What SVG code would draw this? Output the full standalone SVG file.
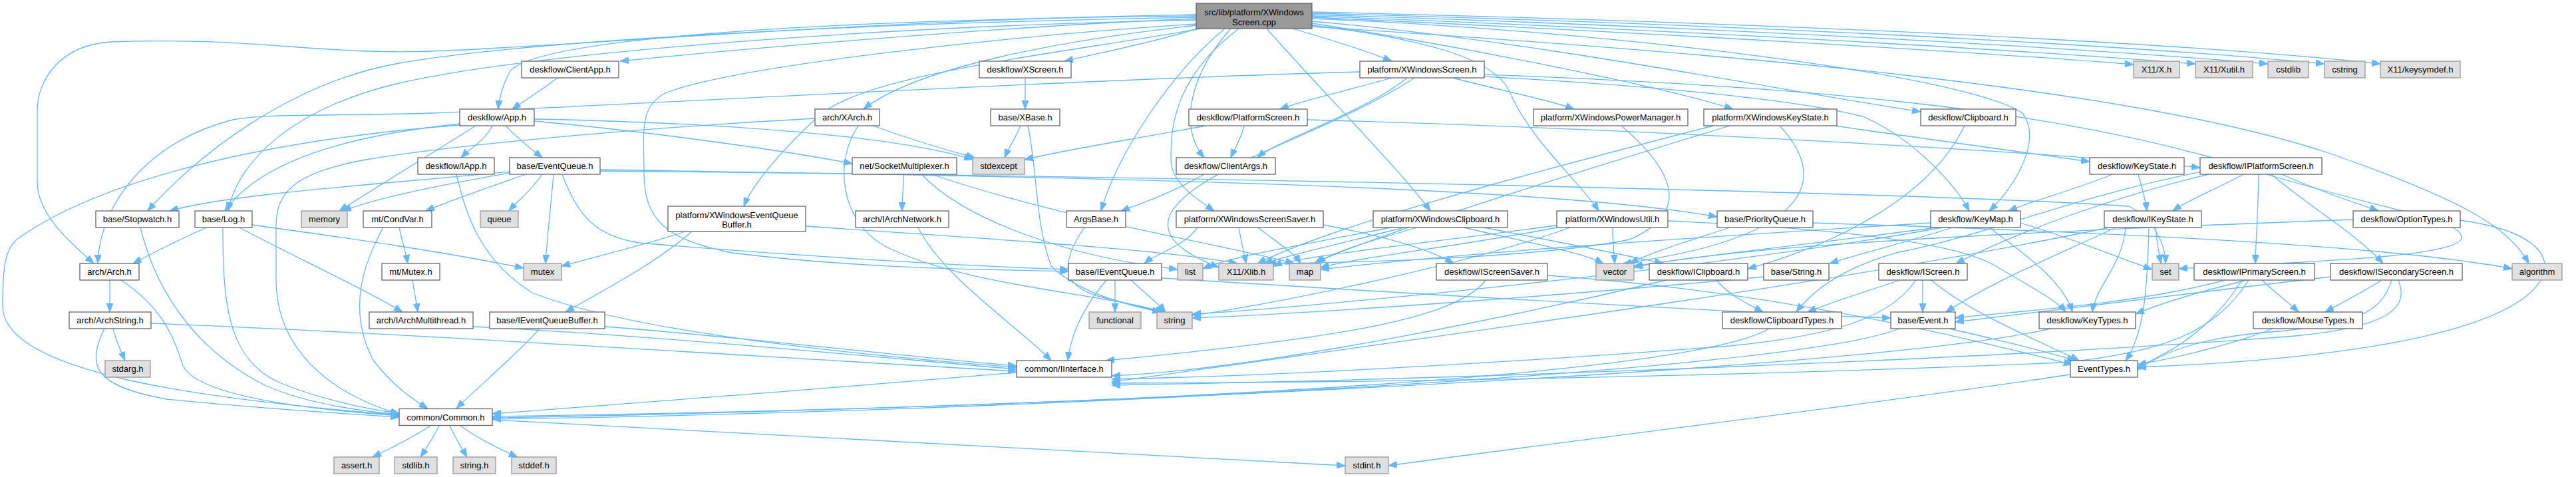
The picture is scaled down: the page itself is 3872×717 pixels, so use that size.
<svg xmlns="http://www.w3.org/2000/svg" width="3872" height="717" viewBox="0 0 3872 717">
<defs>
<marker id="a" markerWidth="13" markerHeight="10" refX="13" refY="5" orient="auto" markerUnits="userSpaceOnUse"><path d="M0,0L13,5L0,10z" fill="#63b8ff" stroke="#63b8ff" stroke-width="1"/></marker>
<style>
.n rect{fill:#ffffff;stroke:#666666;stroke-width:1.3}
.g rect{fill:#e0e0e0;stroke:#999999;stroke-width:1.3}
.m rect{fill:#999999;stroke:#666666;stroke-width:1.3}
text{font-family:"Liberation Sans",Arial,Helvetica,sans-serif;font-size:13px;text-anchor:middle;fill:#000000}
#edges path{fill:none;stroke:#63b8ff;stroke-width:1.3;marker-end:url(#a)}
</style>
</defs>
<rect width="3872" height="717" fill="#ffffff"/>
<g id="edges">
<path d="M1798,28 C1500,40 1100,75 932,92"/>
<path d="M1798,24 C1200,30 790,60 765,110 C755,130 750,150 749,164"/>
<path d="M1798,30 C1300,40 800,80 600,125 C430,165 355,250 343,317"/>
<path d="M1798,26 C1300,35 800,60 600,95 C430,125 290,240 222,317"/>
<path d="M1798,22 C1300,30 850,70 650,77 C480,83 380,55 166,63 C90,68 56,120 56,167 L56,273 C56,320 100,360 141,396"/>
<path d="M1805,43 C1600,80 1300,110 1230,175 C1170,230 1130,280 1118,310"/>
<path d="M1798,38 C1600,60 1380,100 1298,164"/>
<path d="M1800,43 C1740,62 1660,78 1600,92"/>
<path d="M1841,43 C1760,110 1680,230 1655,317"/>
<path d="M1850,43 C1790,110 1770,190 1810,237"/>
<path d="M1862,43 C1760,120 1760,200 1760,240 C1760,275 1800,300 1825,317"/>
<path d="M1943,43 C2000,60 2050,75 2092,92"/>
<path d="M1904,43 C1980,130 2100,250 2150,317"/>
<path d="M1972,38 C2150,60 2250,90 2270,140 C2300,210 2380,280 2403,317"/>
<path d="M1972,35 C2200,70 2500,130 2605,164"/>
<path d="M1972,32 C2300,60 2700,140 2887,168"/>
<path d="M1972,28 C2400,45 2950,110 3040,170 C3070,210 3030,280 2990,317"/>
<path d="M1972,26 C2500,50 3000,80 3207,97"/>
<path d="M1972,24 C2600,48 3100,80 3300,96"/>
<path d="M1972,22 C2700,45 3200,78 3409,96"/>
<path d="M1972,20 C2800,42 3300,77 3494,96"/>
<path d="M1972,18 C2900,40 3400,76 3578,96"/>
<path d="M1972,40 C2600,80 3200,130 3500,230 C3700,300 3770,340 3801,396"/>
<path d="M1798,36 C1500,55 1100,100 1000,140 C960,160 968,200 968,260 C968,330 1000,360 1100,380 C1300,405 1500,405 1606,408"/>
<path d="M838,117 C815,135 790,150 770,164"/>
<path d="M740,189 C730,210 705,225 693,237"/>
<path d="M760,189 C780,210 800,225 815,237"/>
<path d="M803,182 C1000,200 1200,230 1281,246"/>
<path d="M803,179 C1100,185 1350,205 1462,240"/>
<path d="M715,189 C650,230 560,285 510,317"/>
<path d="M691,186 C560,200 400,230 338,317"/>
<path d="M691,188 C400,210 150,270 25,360 C8,375 4,400 4,460 C4,560 300,600 600,624"/>
<path d="M2044,108 C1600,120 900,160 650,170 C500,175 400,170 350,180 C230,210 150,300 147,396"/>
<path d="M686,262 C700,320 720,390 800,440 C950,500 1300,535 1528,552"/>
<path d="M766,258 C600,275 350,290 255,317"/>
<path d="M766,260 C650,280 560,300 515,317"/>
<path d="M790,262 C740,280 680,300 640,317"/>
<path d="M815,262 C800,285 780,300 765,317"/>
<path d="M832,262 C828,310 822,360 820,396"/>
<path d="M845,262 C870,330 900,355 960,365 C1200,385 1450,400 1606,405"/>
<path d="M902,255 C1500,265 2300,275 2581,326"/>
<path d="M902,257 C1800,265 2900,290 3200,310 C3240,330 3255,370 3255,396"/>
<path d="M600,342 C605,365 610,380 613,396"/>
<path d="M576,342 C550,390 520,460 560,540 C590,580 620,600 643,614"/>
<path d="M620,421 C623,440 626,455 628,469"/>
<path d="M310,342 C270,360 230,380 200,396"/>
<path d="M360,342 C420,375 540,430 605,469"/>
<path d="M335,342 C335,450 340,540 420,575 C480,600 550,615 600,621"/>
<path d="M379,338 C500,355 650,375 787,403"/>
<path d="M211,342 C230,420 280,520 400,580 C470,610 550,618 600,623"/>
<path d="M165,421 C165,440 165,455 165,469"/>
<path d="M182,421 C240,460 260,500 275,550 C300,600 500,618 600,625"/>
<path d="M170,494 C175,515 183,530 188,542"/>
<path d="M157,494 C130,550 140,580 250,600 C400,615 520,622 600,627"/>
<path d="M227,486 C600,500 1200,540 1528,558"/>
<path d="M711,491 C1000,505 1350,540 1528,555"/>
<path d="M909,491 C1100,505 1350,535 1528,550"/>
<path d="M811,494 C780,530 720,580 686,614"/>
<path d="M647,640 C620,658 585,675 560,687"/>
<path d="M660,640 C650,660 640,675 632,687"/>
<path d="M676,640 C685,660 695,675 702,687"/>
<path d="M692,640 C720,660 750,675 778,687"/>
<path d="M740,631 C1200,655 1800,690 2022,700"/>
<path d="M3112,563 C2800,610 2300,670 2087,700"/>
<path d="M1312,189 C1370,210 1420,225 1465,237"/>
<path d="M1290,189 C1255,240 1260,330 1330,370 C1450,430 1650,440 1750,469"/>
<path d="M1225,178 C1000,190 700,215 550,240 C440,260 415,290 415,340 L415,420 C415,540 520,600 600,622"/>
<path d="M1541,117 C1541,135 1541,150 1541,164"/>
<path d="M1534,189 C1525,210 1515,225 1510,237"/>
<path d="M1545,189 C1560,260 1555,330 1580,400 C1620,440 1700,460 1745,469"/>
<path d="M1812,189 C1700,210 1600,225 1540,240"/>
<path d="M1870,189 C1865,210 1855,225 1850,237"/>
<path d="M1965,180 C2500,195 3100,230 3307,252"/>
<path d="M1810,262 C1770,285 1720,305 1685,317"/>
<path d="M1630,342 C1590,400 1600,430 1650,445 C1700,458 1730,465 1752,469"/>
<path d="M1358,262 C1358,285 1356,300 1356,317"/>
<path d="M1385,262 C1450,330 1600,385 1770,405"/>
<path d="M1400,262 C1600,330 1850,370 1945,396"/>
<path d="M1380,342 C1420,420 1530,490 1580,542"/>
<path d="M1676,421 C1676,440 1676,455 1676,469"/>
<path d="M1700,421 C1720,440 1740,455 1752,469"/>
<path d="M1663,421 C1630,460 1610,500 1605,542"/>
<path d="M1746,418 C2100,440 2600,470 2842,478"/>
<path d="M2930,494 C3000,510 3080,530 3120,542"/>
<path d="M2854,494 C2700,560 1500,620 740,630"/>
<path d="M2903,421 C2960,470 3060,510 3125,542"/>
<path d="M2890,421 C2890,440 2890,455 2890,469"/>
<path d="M2856,421 C2800,440 2750,455 2717,469"/>
<path d="M2880,421 C2840,480 2750,505 2600,520 C2200,550 1900,565 1671,570"/>
<path d="M2580,421 C2600,445 2630,458 2650,469"/>
<path d="M2505,421 C2300,470 1900,555 1671,565"/>
<path d="M2233,421 C2190,480 2000,510 1662,542"/>
<path d="M2326,414 C2700,440 3000,520 3115,548"/>
<path d="M3195,342 C3190,400 3150,430 3145,469"/>
<path d="M3240,342 C3242,365 3245,380 3248,396"/>
<path d="M3180,342 C3100,380 3000,420 2925,469"/>
<path d="M3170,342 C2800,420 2200,500 1671,574"/>
<path d="M3230,342 C3228,420 3225,500 3195,542"/>
<path d="M3082,494 C2800,560 1500,615 740,628"/>
<path d="M2659,494 C2550,560 1800,610 740,626"/>
<path d="M2651,416 C2400,440 2000,470 1792,478"/>
<path d="M3698,331 C3800,345 3840,380 3820,420 C3760,520 3400,545 3213,552"/>
<path d="M3537,330 C3000,350 2600,370 2456,402"/>
<path d="M3416,494 C3350,520 3260,540 3213,548"/>
<path d="M3400,421 C3420,440 3440,455 3455,469"/>
<path d="M3580,421 C3550,440 3520,455 3495,469"/>
<path d="M3377,421 C3300,440 3250,455 3210,472"/>
<path d="M3345,421 C3200,460 3000,470 2939,478"/>
<path d="M3370,421 C3320,500 3260,530 3213,552"/>
<path d="M3380,421 C3330,500 3250,530 3100,545 C2500,570 2000,575 1671,576"/>
<path d="M3503,416 C3300,440 3050,470 2939,484"/>
<path d="M3595,421 C3580,470 3540,490 3400,500 C3300,510 3250,530 3213,556"/>
<path d="M3605,421 C3620,460 3600,490 3450,505 C3000,540 2200,570 1671,579"/>
<path d="M3372,262 C3330,285 3290,300 3266,317"/>
<path d="M3395,262 C3394,320 3391,360 3390,396"/>
<path d="M3414,262 C3470,310 3540,350 3582,396"/>
<path d="M3430,262 C3480,285 3540,305 3575,317"/>
<path d="M3320,262 C3200,290 3050,340 2940,396"/>
<path d="M3310,258 C3100,300 3000,350 2850,380 C2780,400 2730,430 2700,469"/>
<path d="M3175,262 C3120,285 3060,300 3019,317"/>
<path d="M3214,262 C3220,285 3225,300 3227,317"/>
<path d="M2990,342 C3040,380 3100,420 3115,469"/>
<path d="M2935,342 C2880,360 2800,380 2750,396"/>
<path d="M3037,335 C3120,360 3190,390 3235,405"/>
<path d="M2902,335 C2500,360 2200,380 1985,405"/>
<path d="M2910,342 C2700,370 2550,385 2456,400"/>
<path d="M2920,342 C2600,400 2000,460 1792,472"/>
<path d="M2758,189 C2900,210 3050,230 3141,243"/>
<path d="M2575,189 C2300,260 2000,340 1890,396"/>
<path d="M2600,189 C2300,280 2050,360 1975,396"/>
<path d="M2675,189 C2760,280 2700,360 2440,396"/>
<path d="M2092,117 C2030,135 1960,150 1924,164"/>
<path d="M2115,117 C2050,170 1920,210 1890,237"/>
<path d="M2184,117 C2250,135 2330,150 2366,164"/>
<path d="M2231,112 C2700,130 3100,160 3400,260 C3600,320 3700,330 3700,357 C3700,390 3400,395 3275,404"/>
<path d="M2231,115 C2500,130 2700,150 2800,175 C2880,210 2940,280 2960,317"/>
<path d="M2126,117 C2000,200 1800,250 1760,320 C1740,360 1790,385 1832,402"/>
<path d="M2437,189 C2520,260 2540,320 2450,360 C2300,390 2000,395 1905,396"/>
<path d="M1040,348 C980,400 900,440 850,469"/>
<path d="M1030,348 C980,365 900,385 844,400"/>
<path d="M1211,340 C1500,360 1750,375 1860,396"/>
<path d="M2090,342 C1950,370 1850,385 1808,404"/>
<path d="M2110,342 C2000,370 1930,385 1900,396"/>
<path d="M2130,342 C2050,365 2000,380 1980,396"/>
<path d="M2200,342 C2300,365 2380,380 2410,396"/>
<path d="M2230,342 C2350,365 2450,385 2500,396"/>
<path d="M2424,342 C2424,365 2426,380 2427,396"/>
<path d="M2350,340 C2200,370 2050,385 1985,402"/>
<path d="M2345,338 C2150,365 1950,385 1914,400"/>
<path d="M2360,342 C2200,400 1900,460 1792,474"/>
<path d="M2507,332 C2800,345 2950,370 3000,400 C3050,430 3090,450 3105,469"/>
<path d="M1800,342 C1780,370 1740,380 1720,396"/>
<path d="M1862,342 C1866,365 1870,380 1873,396"/>
<path d="M1891,342 C1920,365 1945,380 1955,396"/>
<path d="M1989,338 C2080,355 2150,375 2185,396"/>
<path d="M2953,189 C2900,300 2750,370 2627,404"/>
<path d="M2600,342 C2530,365 2480,380 2450,396"/>
<path d="M2725,335 C3200,350 3600,370 3776,404"/>
<path d="M1528,560 C1300,580 900,610 740,622"/>
</g>
<g id="main" class="m"><rect x="1798" y="5" width="174" height="38"/><text x="1885" y="22.5">src/lib/platform/XWindows</text><text x="1885" y="37.5">Screen.cpp</text></g>
<g id="ClientApp" class="n"><rect x="784" y="92" width="146" height="25"/><text x="857" y="109">deskflow/ClientApp.h</text></g>
<g id="XScreen" class="n"><rect x="1472" y="92" width="138" height="25"/><text x="1541" y="109">deskflow/XScreen.h</text></g>
<g id="XWScreen" class="n"><rect x="2044" y="92" width="187" height="25"/><text x="2137.5" y="109">platform/XWindowsScreen.h</text></g>
<g id="X11X" class="g"><rect x="3207" y="92" width="69" height="25"/><text x="3241.5" y="109">X11/X.h</text></g>
<g id="Xutil" class="g"><rect x="3300" y="92" width="86" height="25"/><text x="3343" y="109">X11/Xutil.h</text></g>
<g id="cstdlib" class="g"><rect x="3409" y="92" width="61" height="25"/><text x="3439.5" y="109">cstdlib</text></g>
<g id="cstring" class="g"><rect x="3494" y="92" width="61" height="25"/><text x="3524.5" y="109">cstring</text></g>
<g id="keysymdef" class="g"><rect x="3578" y="92" width="120" height="25"/><text x="3638" y="109">X11/keysymdef.h</text></g>
<g id="App" class="n"><rect x="691" y="164" width="112" height="25"/><text x="747" y="181">deskflow/App.h</text></g>
<g id="XArch" class="n"><rect x="1225" y="164" width="97" height="25"/><text x="1273.5" y="181">arch/XArch.h</text></g>
<g id="XBase" class="n"><rect x="1489" y="164" width="104" height="25"/><text x="1541" y="181">base/XBase.h</text></g>
<g id="PlatformScreen" class="n"><rect x="1787" y="164" width="178" height="25"/><text x="1876" y="181">deskflow/PlatformScreen.h</text></g>
<g id="XWPowerManager" class="n"><rect x="2305" y="164" width="232" height="25"/><text x="2421" y="181">platform/XWindowsPowerManager.h</text></g>
<g id="XWKeyState" class="n"><rect x="2561" y="164" width="200" height="25"/><text x="2661" y="181">platform/XWindowsKeyState.h</text></g>
<g id="Clipboard" class="n"><rect x="2887" y="164" width="143" height="25"/><text x="2958.5" y="181">deskflow/Clipboard.h</text></g>
<g id="IApp" class="n"><rect x="628" y="237" width="115" height="25"/><text x="685.5" y="254">deskflow/IApp.h</text></g>
<g id="EventQueue" class="n"><rect x="766" y="237" width="136" height="25"/><text x="834" y="254">base/EventQueue.h</text></g>
<g id="SocketMux" class="n"><rect x="1281" y="237" width="157" height="25"/><text x="1359.5" y="254">net/SocketMultiplexer.h</text></g>
<g id="stdexcept" class="g"><rect x="1462" y="237" width="78" height="25"/><text x="1501" y="254">stdexcept</text></g>
<g id="ClientArgs" class="n"><rect x="1768" y="237" width="149" height="25"/><text x="1842.5" y="254">deskflow/ClientArgs.h</text></g>
<g id="KeyState" class="n"><rect x="3141" y="237" width="142" height="25"/><text x="3212" y="254">deskflow/KeyState.h</text></g>
<g id="IPlatformScreen" class="n"><rect x="3307" y="237" width="183" height="25"/><text x="3398.5" y="254">deskflow/IPlatformScreen.h</text></g>
<g id="Stopwatch" class="n"><rect x="144" y="317" width="125" height="25"/><text x="206.5" y="334">base/Stopwatch.h</text></g>
<g id="Log" class="n"><rect x="293" y="317" width="86" height="25"/><text x="336" y="334">base/Log.h</text></g>
<g id="memory" class="g"><rect x="453" y="317" width="69" height="25"/><text x="487.5" y="334">memory</text></g>
<g id="CondVar" class="n"><rect x="546" y="317" width="103" height="25"/><text x="597.5" y="334">mt/CondVar.h</text></g>
<g id="queue" class="g"><rect x="722" y="317" width="57" height="25"/><text x="750.5" y="334">queue</text></g>
<g id="XWEQB" class="n"><rect x="1004" y="310" width="207" height="38"/><text x="1107.5" y="327.5">platform/XWindowsEventQueue</text><text x="1107.5" y="341.5">Buffer.h</text></g>
<g id="IArchNetwork" class="n"><rect x="1286" y="317" width="140" height="25"/><text x="1356" y="334">arch/IArchNetwork.h</text></g>
<g id="ArgsBase" class="n"><rect x="1603" y="317" width="89" height="25"/><text x="1647.5" y="334">ArgsBase.h</text></g>
<g id="XWScreenSaver" class="n"><rect x="1768" y="317" width="221" height="25"/><text x="1878.5" y="334">platform/XWindowsScreenSaver.h</text></g>
<g id="XWClipboard" class="n"><rect x="2064" y="317" width="202" height="25"/><text x="2165" y="334">platform/XWindowsClipboard.h</text></g>
<g id="XWUtil" class="n"><rect x="2340" y="317" width="167" height="25"/><text x="2423.5" y="334">platform/XWindowsUtil.h</text></g>
<g id="PriorityQueue" class="n"><rect x="2581" y="317" width="144" height="25"/><text x="2653" y="334">base/PriorityQueue.h</text></g>
<g id="KeyMap" class="n"><rect x="2902" y="317" width="135" height="25"/><text x="2969.5" y="334">deskflow/KeyMap.h</text></g>
<g id="IKeyState" class="n"><rect x="3163" y="317" width="146" height="25"/><text x="3236" y="334">deskflow/IKeyState.h</text></g>
<g id="OptionTypes" class="n"><rect x="3537" y="317" width="161" height="25"/><text x="3617.5" y="334">deskflow/OptionTypes.h</text></g>
<g id="Arch" class="n"><rect x="120" y="396" width="89" height="25"/><text x="164.5" y="413">arch/Arch.h</text></g>
<g id="Mutex" class="n"><rect x="574" y="396" width="87" height="25"/><text x="617.5" y="413">mt/Mutex.h</text></g>
<g id="mutex" class="g"><rect x="787" y="396" width="57" height="25"/><text x="815.5" y="413">mutex</text></g>
<g id="IEventQueue" class="n"><rect x="1606" y="396" width="140" height="25"/><text x="1676" y="413">base/IEventQueue.h</text></g>
<g id="list" class="g"><rect x="1770" y="396" width="38" height="25"/><text x="1789" y="413">list</text></g>
<g id="Xlib" class="g"><rect x="1832" y="396" width="82" height="25"/><text x="1873" y="413">X11/Xlib.h</text></g>
<g id="map" class="g"><rect x="1938" y="396" width="47" height="25"/><text x="1961.5" y="413">map</text></g>
<g id="IScreenSaver" class="n"><rect x="2159" y="396" width="167" height="25"/><text x="2242.5" y="413">deskflow/IScreenSaver.h</text></g>
<g id="vector" class="g"><rect x="2399" y="396" width="57" height="25"/><text x="2427.5" y="413">vector</text></g>
<g id="IClipboard" class="n"><rect x="2479" y="396" width="148" height="25"/><text x="2553" y="413">deskflow/IClipboard.h</text></g>
<g id="String" class="n"><rect x="2651" y="396" width="98" height="25"/><text x="2700" y="413">base/String.h</text></g>
<g id="IScreen" class="n"><rect x="2824" y="396" width="133" height="25"/><text x="2890.5" y="413">deskflow/IScreen.h</text></g>
<g id="set" class="g"><rect x="3235" y="396" width="40" height="25"/><text x="3255" y="413">set</text></g>
<g id="IPrimaryScreen" class="n"><rect x="3298" y="396" width="181" height="25"/><text x="3388.5" y="413">deskflow/IPrimaryScreen.h</text></g>
<g id="ISecondaryScreen" class="n"><rect x="3503" y="396" width="198" height="25"/><text x="3602" y="413">deskflow/ISecondaryScreen.h</text></g>
<g id="algorithm" class="g"><rect x="3776" y="396" width="75" height="25"/><text x="3813.5" y="413">algorithm</text></g>
<g id="ArchString" class="n"><rect x="104" y="469" width="123" height="25"/><text x="165.5" y="486">arch/ArchString.h</text></g>
<g id="IArchMultithread" class="n"><rect x="555" y="469" width="156" height="25"/><text x="633" y="486">arch/IArchMultithread.h</text></g>
<g id="IEventQueueBuffer" class="n"><rect x="736" y="469" width="173" height="25"/><text x="822.5" y="486">base/IEventQueueBuffer.h</text></g>
<g id="functional" class="g"><rect x="1637" y="469" width="78" height="25"/><text x="1676" y="486">functional</text></g>
<g id="string" class="g"><rect x="1739" y="469" width="53" height="25"/><text x="1765.5" y="486">string</text></g>
<g id="ClipboardTypes" class="n"><rect x="2589" y="469" width="179" height="25"/><text x="2678.5" y="486">deskflow/ClipboardTypes.h</text></g>
<g id="Event" class="n"><rect x="2842" y="469" width="97" height="25"/><text x="2890.5" y="486">base/Event.h</text></g>
<g id="KeyTypes" class="n"><rect x="3065" y="469" width="145" height="25"/><text x="3137.5" y="486">deskflow/KeyTypes.h</text></g>
<g id="MouseTypes" class="n"><rect x="3387" y="469" width="164" height="25"/><text x="3469" y="486">deskflow/MouseTypes.h</text></g>
<g id="stdarg" class="g"><rect x="158" y="542" width="68" height="25"/><text x="192" y="559">stdarg.h</text></g>
<g id="IInterface" class="n"><rect x="1528" y="542" width="143" height="25"/><text x="1599.5" y="559">common/IInterface.h</text></g>
<g id="EventTypes" class="n"><rect x="3112" y="542" width="101" height="25"/><text x="3162.5" y="559">EventTypes.h</text></g>
<g id="Common" class="n"><rect x="600" y="614.5" width="140" height="25"/><text x="670" y="631.5">common/Common.h</text></g>
<g id="assert" class="g"><rect x="502" y="687" width="68" height="25"/><text x="536" y="704">assert.h</text></g>
<g id="stdlib" class="g"><rect x="593" y="687" width="64" height="25"/><text x="625" y="704">stdlib.h</text></g>
<g id="stringh" class="g"><rect x="681" y="687" width="64" height="25"/><text x="713" y="704">string.h</text></g>
<g id="stddef" class="g"><rect x="769" y="687" width="67" height="25"/><text x="802.5" y="704">stddef.h</text></g>
<g id="stdint" class="g"><rect x="2022" y="687" width="65" height="25"/><text x="2054.5" y="704">stdint.h</text></g>
</svg>
